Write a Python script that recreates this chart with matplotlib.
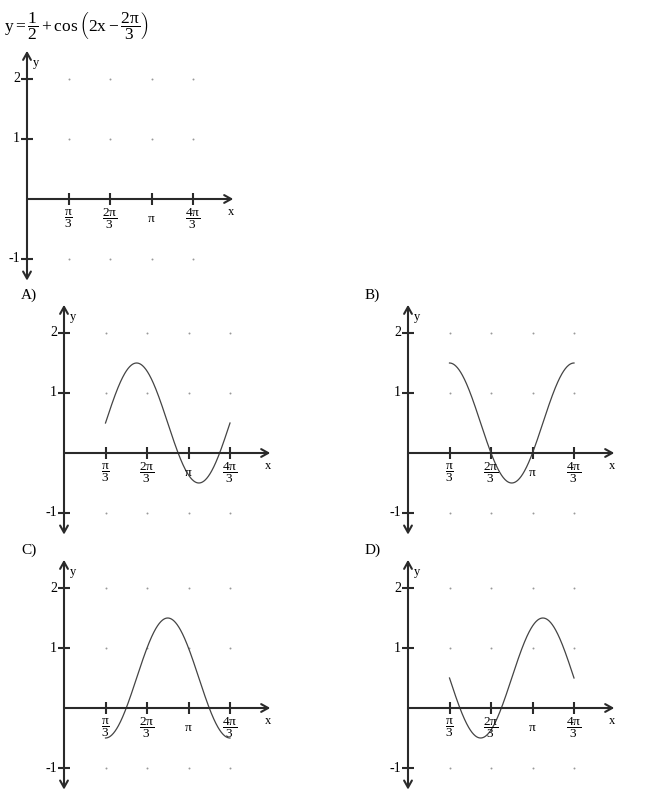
import numpy as np
import matplotlib
matplotlib.use("Agg")
import matplotlib.pyplot as plt

plt.rcParams['font.family'] = ['Liberation Serif', 'DejaVu Serif']
plt.rcParams['mathtext.fontset'] = 'custom'
plt.rcParams['mathtext.rm'] = 'Liberation Serif'
plt.rcParams['mathtext.it'] = 'Liberation Serif'
plt.rcParams['mathtext.bf'] = 'Liberation Serif:bold'

W, H = 650, 793
PX_X = 41.5 / (np.pi / 3)   # pixels per radian
PX_Y = 60.0                 # pixels per unit of y

# data
x_ticks = [np.pi / 3, 2 * np.pi / 3, np.pi, 4 * np.pi / 3]
x_tick_labels = [r'$\dfrac{\pi}{3}$', r'$\dfrac{2\pi}{3}$', r'$\pi$', r'$\dfrac{4\pi}{3}$']
y_ticks = [2, 1, -1]
y_tick_labels = ['2', '1', '-1']
x_start, x_end = np.pi / 3, 4 * np.pi / 3

# answer choices: y = offset + sign * trig(2x - 2pi/3)
choices = ['A)', 'B)', 'C)', 'D)']
choice_offset = [0.5, 0.5, 0.5, 0.5]
choice_sign = [1, 1, -1, -1]
choice_trig = ['sin', 'cos', 'cos', 'sin']

# pixel origin of each panel (where the axes cross)
panel_origins = {'top': (27, 199), 'A)': (64, 453), 'B)': (408, 453),
                 'C)': (64, 708), 'D)': (408, 708)}

fig = plt.figure(figsize=(6.5, 7.93), dpi=100)

fig.text(4 / W, 1 - 26 / H,
         r'$y = \dfrac{1}{2} + \cos\left(2x - \dfrac{2\pi}{3}\right)$',
         fontsize=12.5, ha='left', va='center')


def make_panel(ox, oy):
    xmin, xmax = -1.0, 5.6
    ymin, ymax = -1.6, 2.7
    left = (ox + xmin * PX_X) / W
    width = (xmax - xmin) * PX_X / W
    bottom = (H - oy + ymin * PX_Y) / H
    height = (ymax - ymin) * PX_Y / H
    ax = fig.add_axes([left, bottom, width, height])
    ax.set_xlim(xmin, xmax)
    ax.set_ylim(ymin, ymax)
    ax.axis('off')

    axis_col = '#2a2a2a'
    # x axis with arrow to the right
    ax.annotate('', xy=(4.97 * np.pi / 3, 0), xytext=(0, 0),
                arrowprops=dict(arrowstyle='->,head_length=0.5,head_width=0.28',
                                lw=1.5, color=axis_col, shrinkA=0, shrinkB=0))
    # y axis with arrows both ways
    ax.annotate('', xy=(0, 2.47), xytext=(0, -1.36),
                arrowprops=dict(arrowstyle='<->,head_length=0.5,head_width=0.28',
                                lw=1.5, color=axis_col, shrinkA=0, shrinkB=0))

    ax.plot(x_ticks, [0] * len(x_ticks), ls='', marker='|', ms=8, mew=1.5,
            color=axis_col)
    ax.plot([0] * len(y_ticks), y_ticks, ls='', marker='_', ms=8, mew=1.5,
            color=axis_col)

    gx, gy = np.meshgrid(x_ticks, y_ticks)
    ax.scatter(gx.ravel(), gy.ravel(), s=2.0, color='#999999', lw=0)

    for xt, lab in zip(x_ticks, x_tick_labels):
        ax.annotate(lab, xy=(xt, 0), xytext=(0, -20), textcoords='offset pixels',
                    ha='center', va='center', fontsize=9.5)
    for yt, lab in zip(y_ticks, y_tick_labels):
        ax.annotate(lab, xy=(0, yt), xytext=(-7, 0), textcoords='offset pixels',
                    ha='right', va='center', fontsize=10)

    ax.annotate('x', xy=(4.97 * np.pi / 3, 0), xytext=(-2, -13),
                textcoords='offset pixels', ha='center', va='center', fontsize=9)
    ax.annotate('y', xy=(0, 2.47), xytext=(9, -12),
                textcoords='offset pixels', ha='center', va='center', fontsize=9)
    return ax


make_panel(*panel_origins['top'])

xs = np.linspace(x_start, x_end, 300)
for name, off, sgn, trig in zip(choices, choice_offset, choice_sign, choice_trig):
    ox, oy = panel_origins[name]
    ax = make_panel(ox, oy)
    f = np.sin if trig == 'sin' else np.cos
    ax.plot(xs, off + sgn * f(2 * xs - 2 * np.pi / 3), color='#444444', lw=0.9)
    fig.text((ox - 43) / W, 1 - (oy - 158) / H, name, fontsize=11,
             ha='left', va='center')

fig.savefig('out.png', dpi=100)
